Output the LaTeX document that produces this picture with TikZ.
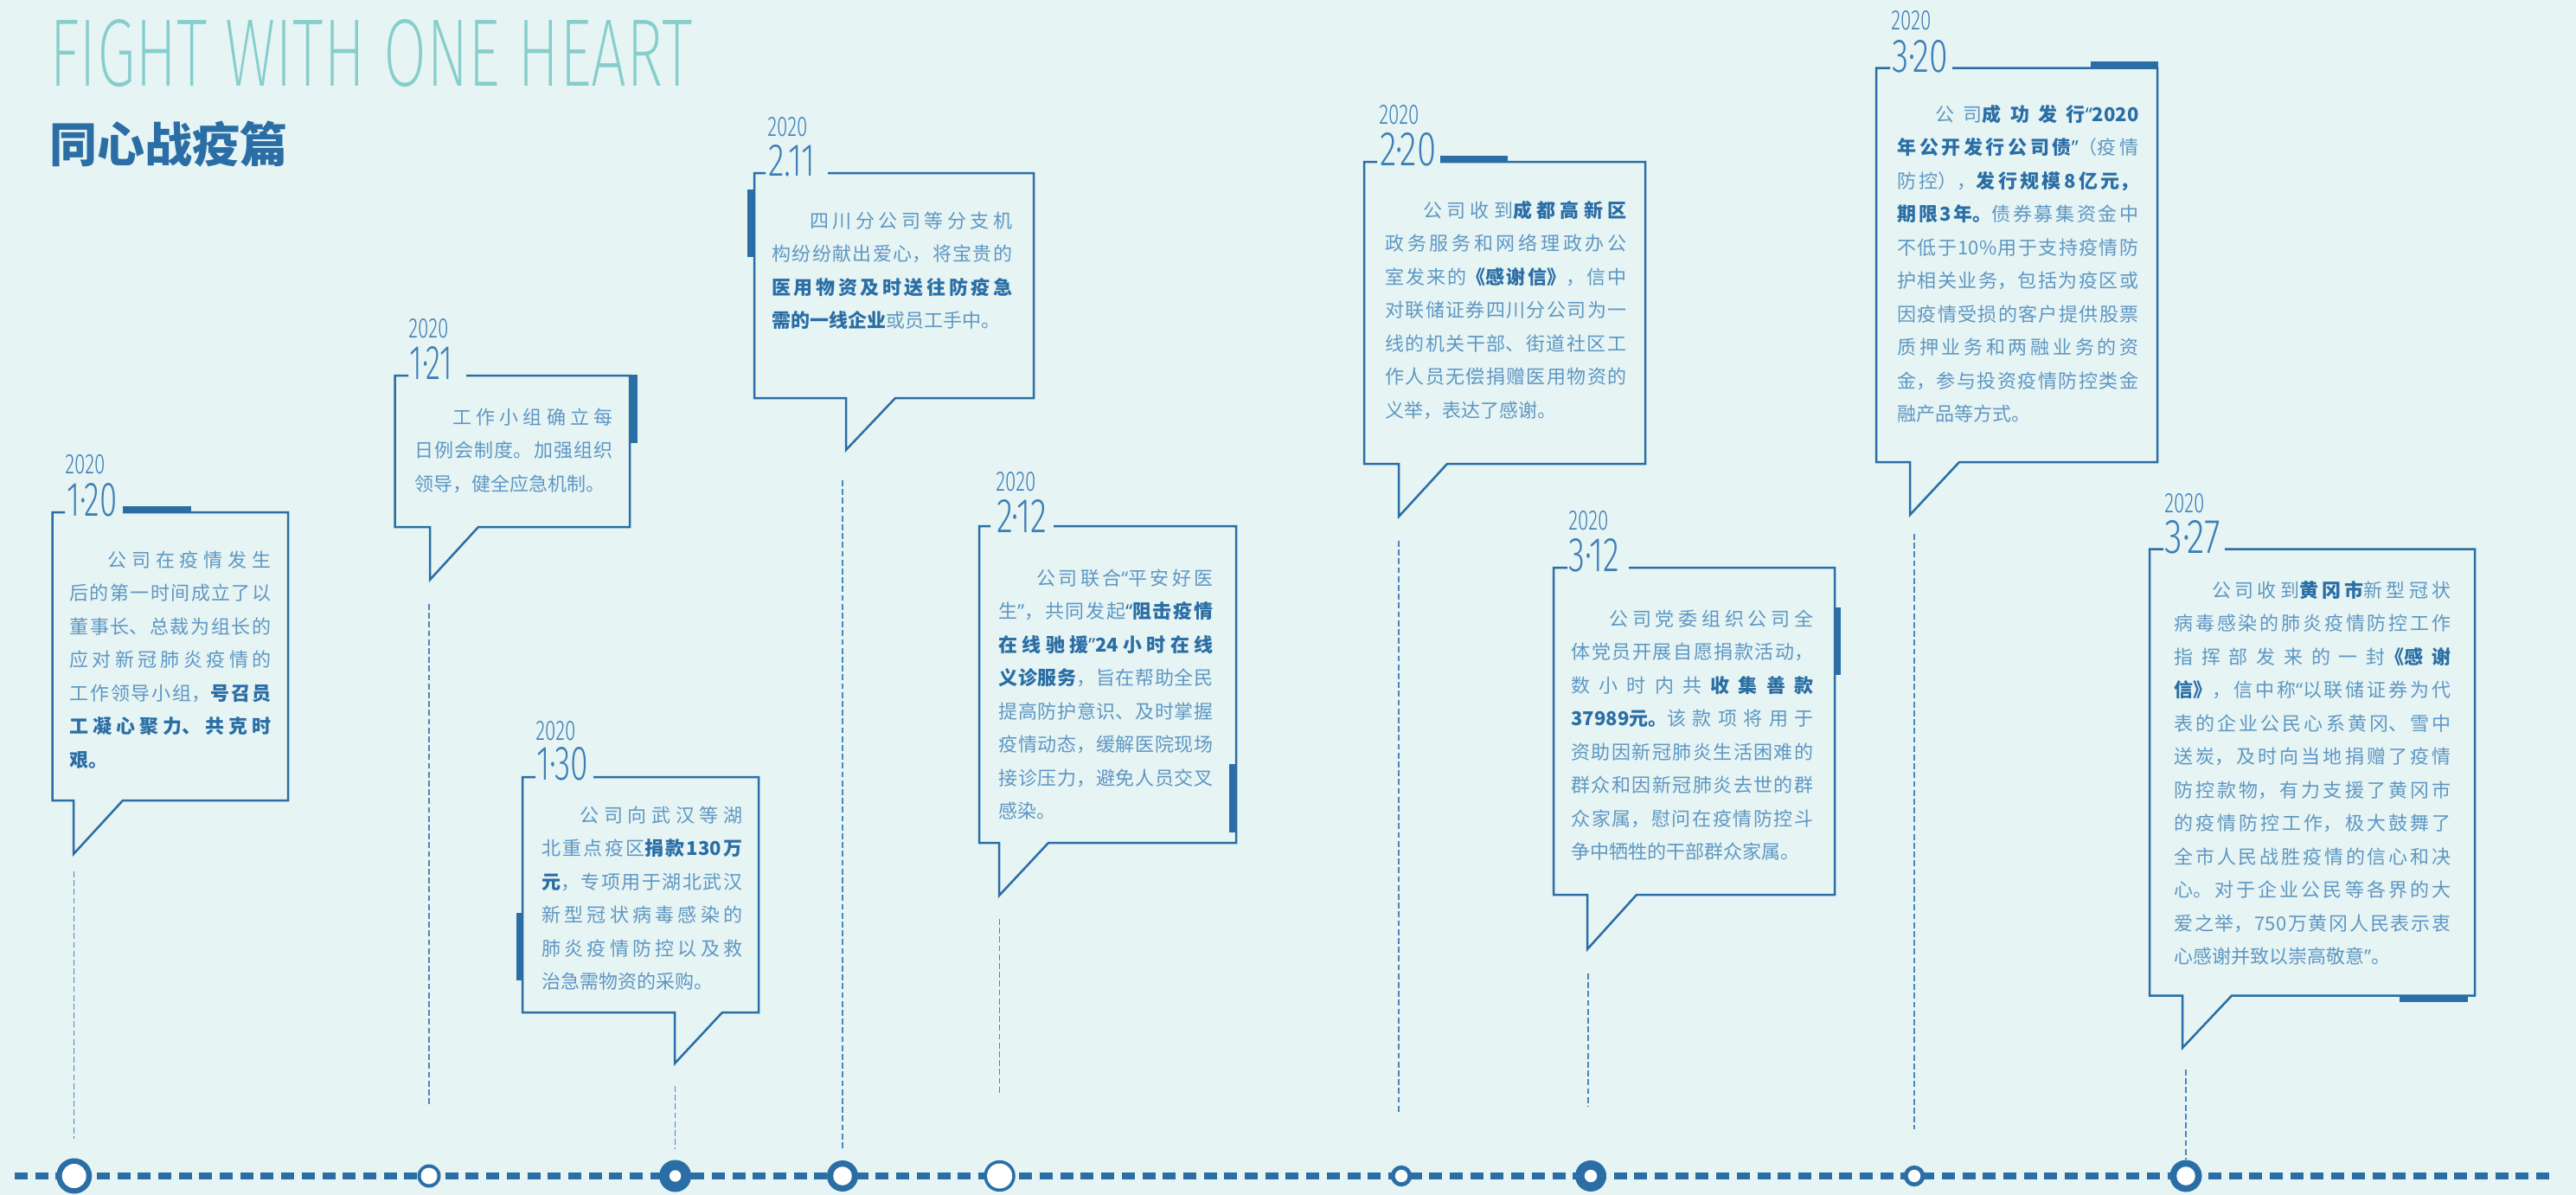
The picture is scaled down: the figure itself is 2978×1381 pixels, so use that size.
\documentclass[tikz,border=0pt]{standalone}
\usepackage{fontspec}
\usepackage{graphicx}
\setmainfont{Noto Sans CJK SC}
\newfontfamily\datefont{Fira Sans Light}
\newfontfamily\thinfont{Fira Sans ExtraLight}
\newfontfamily\qfont{Noto Sans}
\XeTeXlinebreaklocale "zh"
\XeTeXlinebreakskip=0pt plus 4pt
\definecolor{bg}{HTML}{E6F4F4}
\definecolor{blu}{HTML}{2A6EA5}
\definecolor{txt}{HTML}{5F97C2}
\definecolor{datec}{HTML}{3E7FB6}
\definecolor{teal}{HTML}{86CECC}
\definecolor{dashc}{HTML}{4A87BA}
\newcommand\qo{{\qfont “}}
\newcommand\qc{{\qfont ”}}
\newcommand\B[1]{\textcolor{blu}{\bfseries #1}}
\newcommand\bodypar[2]{\vtop{\hsize=#1\parindent=0pt\leftskip=0pt\rightskip=0pt\parfillskip=0pt plus 1fil\tolerance=10000\hbadness=10000\pretolerance=-1\fontsize{11pt}{19.25pt}\selectfont\noindent #2\par}}
\tikzset{
  bub/.style={draw=blu, line width=1.25pt, line join=miter},
  accent/.style={fill=blu},
  bodytxt/.style={anchor=base west, inner sep=0pt, text=txt},
  datelab/.style={anchor=north west, inner sep=0pt, text=datec},
  vdash/.style={draw=dashc, line width=0.75pt, dash pattern=on 3.4pt off 1.7pt},
  ring/.style={circle, fill=blu, inner sep=0pt},
  hole/.style={circle, fill=white, inner sep=0pt},
  tline/.style={draw=blu, line width=4.15pt, dash pattern=on 7.5pt off 4.35pt}
}
\begin{document}
\begin{tikzpicture}[x=0.5pt, y=-0.5pt]
\fill[bg] (0,0) rectangle (2978,1381);
\useasboundingbox (0,0) rectangle (2978,1381);

% title
\node[anchor=north west, inner sep=0pt, text=teal] (title) at (57,22) {\resizebox{371.5pt}{38.5pt}{\thinfont FIGHT WITH ONE HEART}};
\node[anchor=base west, inner sep=0pt, text=blu, font=\fontsize{27.5pt}{30pt}\selectfont\bfseries] (head) at (57,187) {同心战疫篇};

% ---------- timeline ----------
\coordinate (tl0) at (17,1359);
\coordinate (tl1) at (2955,1359);
\draw[tline] (tl0) -- (tl1);

% ---------- box 1: 1.20 ----------
\draw[bub] (75,592) -- (60.5,592) -- (60.5,925) -- (85,925) -- (85,987) -- (142,925) -- (333,925) -- (333,592) -- (142,592);
\fill[accent] (142,585) rectangle (221,593);
\node[datelab] (y1) at (75,525) {\resizebox{23pt}{11pt}{\datefont 2020}};
\node[datelab] (d1) at (77,558) {\resizebox{29pt}{19pt}{\datefont 1·20}};
\node[bodytxt] (t1) at (80,655.4) {\bodypar{116.5pt}{\hspace*{2em}公司在疫情发生\linebreak 后的第一时间成立了以\linebreak 董事长、总裁为组长的\linebreak 应对新冠肺炎疫情的\linebreak 工作领导小组，\B{号召员}\linebreak \B{工凝心聚力、共克时}\linebreak \B{艰。}}};

% ---------- box 2: 1.21 ----------
\draw[bub] (472,434) -- (456.7,434) -- (456.7,609) -- (497,609) -- (497,670) -- (553,609) -- (728,609) -- (728,434) -- (539,434);
\fill[accent] (728,433) rectangle (737,512);
\node[datelab] (y2) at (472,368) {\resizebox{23pt}{11pt}{\datefont 2020}};
\node[datelab] (d2) at (473,400) {\resizebox{25pt}{19pt}{\datefont 1·21}};
\node[bodytxt] (t2) at (479,490) {\bodypar{114.5pt}{\hspace*{2em}工作小组确立每\linebreak 日例会制度。加强组织\linebreak 领导，健全应急机制。}};

% ---------- box 3: 1.30 ----------
\draw[bub] (619,898) -- (604,898) -- (604,1170) -- (780,1170) -- (780,1229) -- (835,1170) -- (877,1170) -- (877,898) -- (686,898);
\fill[accent] (597,1055) rectangle (604,1133);
\node[datelab] (y3) at (619,833) {\resizebox{23pt}{11pt}{\datefont 2020}};
\node[datelab] (d3) at (620,863) {\resizebox{30pt}{19pt}{\datefont 1·30}};
\node[bodytxt] (t3) at (626,950) {\bodypar{116pt}{\hspace*{2em}公司向武汉等湖\linebreak 北重点疫区\B{捐款130万}\linebreak \B{元}，专项用于湖北武汉\linebreak 新型冠状病毒感染的\linebreak 肺炎疫情防控以及救\linebreak 治急需物资的采购。}};

% ---------- box 4: 2.11 ----------
\draw[bub] (885,200) -- (872,200) -- (872,460) -- (978,460) -- (978,520) -- (1035,460) -- (1195,460) -- (1195,200) -- (957,200);
\fill[accent] (864,219) rectangle (872,297);
\node[datelab] (y4) at (887,135) {\resizebox{23pt}{11pt}{\datefont 2020}};
\node[datelab] (d4) at (888,167) {\resizebox{27pt}{18pt}{\datefont 2.11}};
\node[bodytxt] (t4) at (892,263.4) {\bodypar{139pt}{\hspace*{2em}四川分公司等分支机\linebreak 构纷纷献出爱心，将宝贵的\linebreak \B{医用物资及时送往防疫急}\linebreak \B{需的一线企业}或员工手中。}};

% ---------- box 5: 2.12 ----------
\draw[bub] (1145,608) -- (1132,608) -- (1132,974) -- (1155,974) -- (1155,1035) -- (1212,974) -- (1429,974) -- (1429,608) -- (1218,608);
\fill[accent] (1421,883) rectangle (1429,962);
\node[datelab] (y5) at (1151,545) {\resizebox{23pt}{11pt}{\datefont 2020}};
\node[datelab] (d5) at (1152,577) {\resizebox{29pt}{19pt}{\datefont 2·12}};
\node[bodytxt] (t5) at (1154,676.4) {\bodypar{124pt}{\hspace*{2em}公司联合\qo 平安好医\linebreak 生\qc，共同发起\B{\qo 阻击疫情}\linebreak \B{在线驰援\qc 24小时在线}\linebreak \B{义诊服务}，旨在帮助全民\linebreak 提高防护意识、及时掌握\linebreak 疫情动态，缓解医院现场\linebreak 接诊压力，避免人员交叉\linebreak 感染。}};

% ---------- box 6: 2.20 ----------
\draw[bub] (1592,187) -- (1577,187) -- (1577,536) -- (1617,536) -- (1617,597) -- (1673,536) -- (1902,536) -- (1902,187) -- (1665,187);
\fill[accent] (1665,180) rectangle (1743,188);
\node[datelab] (y6) at (1594,121) {\resizebox{23pt}{11pt}{\datefont 2020}};
\node[datelab] (d6) at (1595,153) {\resizebox{32.5pt}{19pt}{\datefont 2·20}};
\node[bodytxt] (t6) at (1601,251.4) {\bodypar{139.5pt}{\hspace*{2em}公司收到\B{成都高新区}\linebreak 政务服务和网络理政办公\linebreak 室发来的\B{《感谢信》}，信中\linebreak 对联储证券四川分公司为一\linebreak 线的机关干部、街道社区工\linebreak 作人员无偿捐赠医用物资的\linebreak 义举，表达了感谢。}};

% ---------- box 7: 3.12 ----------
\draw[bub] (1812,656) -- (1796,656) -- (1796,1034) -- (1835,1034) -- (1835,1097) -- (1892,1034) -- (2121,1034) -- (2121,656) -- (1883,656);
\fill[accent] (2121,702) rectangle (2128,780);
\node[datelab] (y7) at (1813,590) {\resizebox{23pt}{11pt}{\datefont 2020}};
\node[datelab] (d7) at (1813,622) {\resizebox{29.5pt}{19pt}{\datefont 3·12}};
\node[bodytxt] (t7) at (1816,723.4) {\bodypar{140pt}{\hspace*{2em}公司党委组织公司全\linebreak 体党员开展自愿捐款活动，\linebreak 数小时内共\hskip0pt plus 4pt\B{收集善款}\linebreak \B{37989\nobreak 元。}该款项将用于\linebreak 资助因新冠肺炎生活困难的\linebreak 群众和因新冠肺炎去世的群\linebreak 众家属，慰问在疫情防控斗\linebreak 争中牺牲的干部群众家属。}};

% ---------- box 8: 3.20 ----------
\draw[bub] (2185,78.5) -- (2169,78.5) -- (2169,534) -- (2208,534) -- (2208,595) -- (2265,534) -- (2494,534) -- (2494,78.5) -- (2257,78.5);
\fill[accent] (2417,71) rectangle (2495,79);
\node[datelab] (y8) at (2186,12) {\resizebox{23pt}{11pt}{\datefont 2020}};
\node[datelab] (d8) at (2187,46) {\resizebox{32.5pt}{18.5pt}{\datefont 3·20}};
\node[bodytxt] (t8) at (2193,140.4) {\bodypar{139.5pt}{\hspace*{2em}公司\B{成功发行\qo 2020}\linebreak \B{年公开发行公司债\qc}（疫情\linebreak 防控），\B{发行规模8亿元，}\linebreak \B{期限3年。}债券募集资金中\linebreak 不低于10\%用于支持疫情防\linebreak 护相关业务，包括为疫区或\linebreak 因疫情受损的客户提供股票\linebreak 质押业务和两融业务的资\linebreak 金，参与投资疫情防控类金\linebreak 融产品等方式。}};

% ---------- box 9: 3.27 ----------
\draw[bub] (2501,634.6) -- (2485,634.6) -- (2485,1150.6) -- (2523,1150.6) -- (2523,1211) -- (2580,1150.6) -- (2861,1150.6) -- (2861,634.6) -- (2572,634.6);
\fill[accent] (2774,1150) rectangle (2853,1158);
\node[datelab] (y9) at (2502,570) {\resizebox{23pt}{11pt}{\datefont 2020}};
\node[datelab] (d9) at (2502,601) {\resizebox{32.5pt}{19pt}{\datefont 3·27}};
\node[bodytxt] (t9) at (2513,690.4) {\bodypar{160pt}{\hspace*{2em}公司收到\B{黄冈市}新型冠状\linebreak 病毒感染的肺炎疫情防控工作\linebreak 指挥部发来的一封\B{《感谢}\linebreak \B{信》}，信中称\qo 以联储证券为代\linebreak 表的企业公民心系黄冈、雪中\linebreak 送炭，及时向当地捐赠了疫情\linebreak 防控款物，有力支援了黄冈市\linebreak 的疫情防控工作，极大鼓舞了\linebreak 全市人民战胜疫情的信心和决\linebreak 心。对于企业公民等各界的大\linebreak 爱之举，750万黄冈人民表示衷\linebreak 心感谢并致以崇高敬意\qc。}};

% ---------- dashed drop lines ----------
\coordinate (v1a) at (85.7,1007);  \coordinate (v1b) at (85.7,1316);
\coordinate (v2a) at (496,698);    \coordinate (v2b) at (496,1279);
\coordinate (v3a) at (780.6,1255); \coordinate (v3b) at (780.6,1328);
\coordinate (v4a) at (974,555);    \coordinate (v4b) at (974,1328);
\coordinate (v5a) at (1155.6,1062);\coordinate (v5b) at (1155.6,1265);
\coordinate (v6a) at (1617,625);   \coordinate (v6b) at (1617,1287);
\coordinate (v7a) at (1836,1125);  \coordinate (v7b) at (1836,1279);
\coordinate (v8a) at (2213,617);   \coordinate (v8b) at (2213,1305);
\coordinate (v9a) at (2527,1236);  \coordinate (v9b) at (2527,1340);
\foreach \i in {1,...,9} {\draw[vdash] (v\i a) -- (v\i b);}

% ---------- circles ----------
\node[ring, minimum size=20.5pt] (c1) at (85.7,1359) {};
\node[hole, minimum size=14pt] (h1) at (c1) {};
\node[ring, minimum size=13.5pt] (c2) at (496,1359) {};
\node[hole, minimum size=9.5pt] (h2) at (c2) {};
\node[ring, minimum size=18.5pt] (c3) at (780.6,1359) {};
\node[hole, minimum size=6.7pt] (h3) at (c3) {};
\node[ring, minimum size=18pt] (c4) at (974,1359) {};
\node[hole, minimum size=10.8pt] (h4) at (c4) {};
\node[ring, minimum size=18.2pt] (c5) at (1155.6,1359) {};
\node[hole, minimum size=14.5pt] (h5) at (c5) {};
\node[ring, minimum size=12.2pt] (c6) at (1620,1359) {};
\node[hole, minimum size=7.2pt] (h6) at (c6) {};
\node[ring, minimum size=18pt] (c7) at (1839,1359) {};
\node[hole, minimum size=7.2pt] (h7) at (c7) {};
\node[ring, minimum size=12.2pt] (c8) at (2213,1359) {};
\node[hole, minimum size=7.2pt] (h8) at (c8) {};
\node[ring, minimum size=18.5pt] (c9) at (2527,1359) {};
\node[hole, minimum size=10.8pt] (h9) at (c9) {};
\end{tikzpicture}
\end{document}
